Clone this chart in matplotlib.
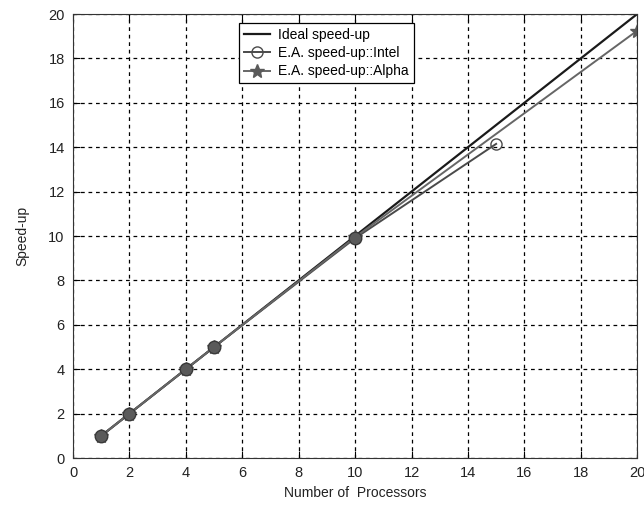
import matplotlib
matplotlib.use("Agg")
import matplotlib.pyplot as plt

plt.rcParams['font.family'] = ['Liberation Sans', 'DejaVu Sans']

# donnees
ideal_x = [1, 20]
ideal_y = [1, 20]

intel_x = [1, 2, 4, 5, 10, 15]
intel_y = [1, 2, 4, 5, 9.9, 14.15]

alpha_x = [1, 2, 4, 5, 10, 20]
alpha_y = [1, 2, 4, 5, 9.95, 19.25]

fig = plt.figure(figsize=(6.44, 5.08), dpi=100)
ax = fig.add_axes([0.1134, 0.0984, 0.876, 0.874])

ax.plot(ideal_x, ideal_y, color='#1a1a1a', lw=1.6, label='Ideal speed-up')
ax.plot(intel_x, intel_y, color='#4a4a4a', lw=1.4, marker='o', ms=8,
        mfc='none', mec='#4a4a4a', mew=1.0, label='E.A. speed-up::Intel')
ax.plot(alpha_x, alpha_y, color='#666666', lw=1.4, marker='*', ms=10,
        mfc='#5a5a5a', mec='#5a5a5a', label='E.A. speed-up::Alpha')

# points communs: cercles pleins comme sur l'original
ax.plot(intel_x[:5], intel_y[:5], ls='none', marker='o', ms=9,
        mfc='#5a5a5a', mec='#3a3a3a', mew=1.0, zorder=4)

ax.set_xlim(0, 20)
ax.set_ylim(0, 20)
ax.set_xticks(range(0, 21, 2))
ax.set_yticks(range(0, 21, 2))
ax.grid(True, ls=(0, (3, 3)), color='black', lw=0.9)
ax.tick_params(direction='in', top=True, right=True, labelsize=10.5, length=5,
               pad=6, labelcolor='#222222')
for s in ax.spines.values():
    s.set_color('#333333')

ax.set_xlabel('Number of  Processors', fontsize=10, labelpad=4, color='#222222')
ax.set_ylabel('Speed-up', fontsize=10, labelpad=14, color='#222222')

leg = ax.legend(loc='upper center', bbox_to_anchor=(0.449, 0.995), fontsize=10,
                fancybox=False, framealpha=1, edgecolor='black',
                handlelength=1.9, handletextpad=0.6, borderpad=0.35,
                labelspacing=0.3)
leg.get_frame().set_linewidth(0.9)

fig.savefig('out.png', dpi=100)
